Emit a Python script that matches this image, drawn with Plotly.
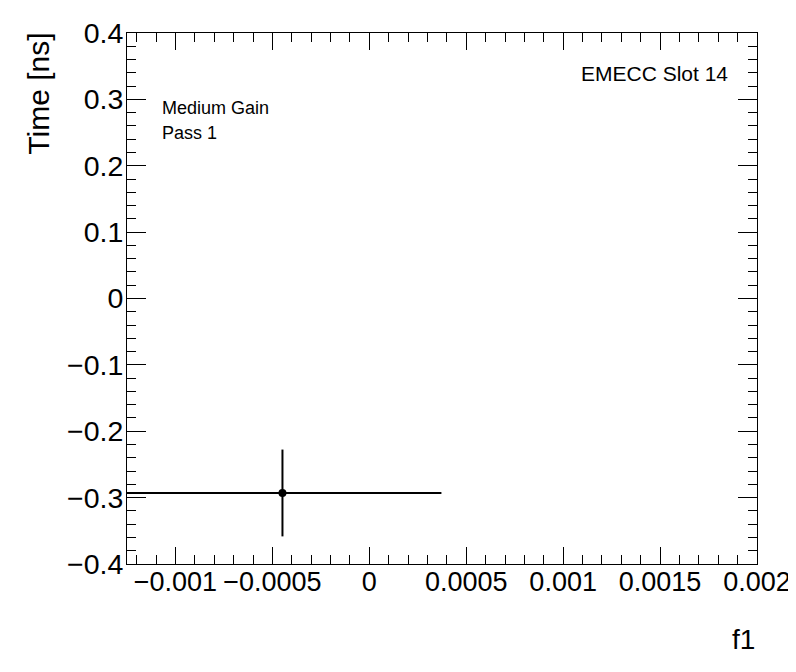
import plotly.graph_objects as go

# data
f1 = [-0.000448]
time_ns = [-0.293]
f1_err = [0.00082]
time_err = [0.0654]

x_tickvals = [-0.001, -0.0005, 0, 0.0005, 0.001, 0.0015, 0.002]
x_ticktext = ["\u22120.001", "\u22120.0005", "0", "0.0005", "0.001", "0.0015", "0.002"]
y_tickvals = [-0.4, -0.3, -0.2, -0.1, 0, 0.1, 0.2, 0.3, 0.4]
y_ticktext = ["\u22120.4", "\u22120.3", "\u22120.2", "\u22120.1", "0", "0.1", "0.2", "0.3", "0.4"]

FONT = "Liberation Sans, Arial, Helvetica, sans-serif"

fig = go.Figure()
fig.add_trace(go.Scatter(
    x=f1, y=time_ns,
    mode="markers",
    marker=dict(color="black", size=8),
    error_x=dict(type="data", array=f1_err, color="black", thickness=2, width=0),
    error_y=dict(type="data", array=time_err, color="black", thickness=2, width=0),
    showlegend=False,
))

axis_common = dict(
    showgrid=False, zeroline=False, automargin=False,
    showline=True, linecolor="black", linewidth=1, mirror="allticks",
    ticks="inside", tickcolor="black", tickwidth=1,
)

fig.update_xaxes(
    range=[-0.00125, 0.002],
    tickvals=x_tickvals, ticktext=x_ticktext, ticklen=17,
    tickangle=0, ticklabelstandoff=-6,
    tickfont=dict(family=FONT, size=27, color="black"),
    minor=dict(ticks="inside", dtick=0.0001, tick0=0, ticklen=9, tickcolor="black"),
    **axis_common,
)
fig.update_yaxes(
    range=[-0.4, 0.4],
    tickvals=y_tickvals, ticktext=y_ticktext, ticklen=19,
    ticklabelstandoff=-3,
    tickfont=dict(family=FONT, size=28.5, color="black"),
    minor=dict(ticks="inside", dtick=0.02, tick0=0, ticklen=9, tickcolor="black"),
    **axis_common,
)

fig.add_annotation(text="Time [ns]", textangle=-90, xref="paper", yref="paper",
                   x=-0.141, y=0.886, xanchor="center", yanchor="middle", showarrow=False,
                   font=dict(family=FONT, size=30, color="black"))
fig.add_annotation(text="f1", xref="paper", yref="paper",
                   x=1.0, y=-0.143, xanchor="right", yanchor="middle", showarrow=False,
                   font=dict(family=FONT, size=28, color="black"))
fig.add_annotation(text="EMECC Slot 14", xref="paper", yref="paper",
                   x=0.957, y=0.924, xanchor="right", yanchor="middle", showarrow=False,
                   font=dict(family=FONT, size=21, color="black"))
fig.add_annotation(text="Medium Gain", xref="paper", yref="paper",
                   x=0.052, y=0.859, xanchor="left", yanchor="middle", showarrow=False,
                   font=dict(family=FONT, size=18, color="black"))
fig.add_annotation(text="Pass 1", xref="paper", yref="paper",
                   x=0.052, y=0.812, xanchor="left", yanchor="middle", showarrow=False,
                   font=dict(family=FONT, size=18, color="black"))

# page body adds an 8px offset, so the figure is sized to fit inside the window
fig.update_layout(
    width=788, height=664,
    margin=dict(l=119, r=39, t=25, b=108),
    plot_bgcolor="white", paper_bgcolor="white",
)

fig.write_html("out.html")
